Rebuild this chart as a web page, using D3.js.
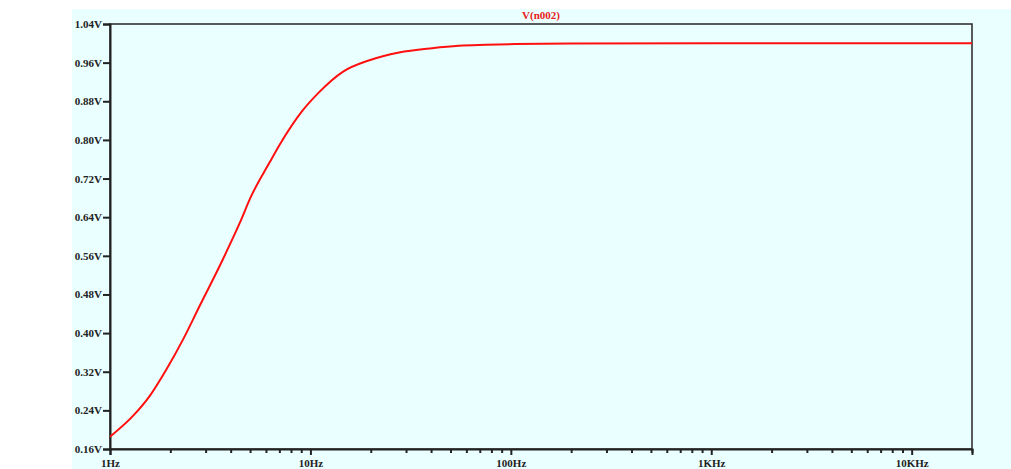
<!DOCTYPE html>
<html>
<head>
<meta charset="utf-8">
<script src="https://cdn.jsdelivr.net/npm/d3@7"></script>
<style>
  body { margin: 0; background: #fff; }
  text { font-family: "Liberation Serif", "Times New Roman", serif; font-weight: bold; }
</style>
</head>
<body>
<svg id="chart"></svg>
<script>
// frequency (Hz) and output voltage (V)
const freq  = [1, 1.306, 1.58, 1.914, 2.316, 2.8, 3.66, 4.43, 5.07, 6.25, 7.0, 9.15, 11.06, 14.5, 19.7, 27.7, 40.5, 55, 75, 105, 200, 1000, 10000, 20000];
const volts = [0.1855, 0.229, 0.270, 0.325, 0.387, 0.456, 0.553, 0.627, 0.684, 0.753, 0.789, 0.861, 0.899, 0.941, 0.965, 0.981, 0.990, 0.995, 0.997, 0.9985, 0.9995, 1.0, 1.0, 1.0];

const yTicks = [0.16, 0.24, 0.32, 0.40, 0.48, 0.56, 0.64, 0.72, 0.80, 0.88, 0.96, 1.04];
const xMajor = [1, 10, 100, 1000, 10000];
const xLabels = ["1Hz", "10Hz", "100Hz", "1KHz", "10KHz"];
const traceName = "V(n002)";

const width = 1011, height = 469;
const margin = { top: 24, right: 39, bottom: 20, left: 110 };
const innerW = width - margin.left - margin.right;
const innerH = height - margin.top - margin.bottom;

const svg = d3.select("#chart").attr("width", width).attr("height", height);

svg.append("rect")
  .attr("x", 72).attr("y", 9)
  .attr("width", width - 72).attr("height", height - 9)
  .attr("fill", "#eaffff");

const g = svg.append("g").attr("transform", `translate(${margin.left},${margin.top})`);

const x = d3.scaleLog().domain([1, 20000]).range([0, innerW]);
const y = d3.scaleLinear().domain([0.16, 1.04]).range([innerH, 0]);

// minor ticks 2..9 in every decade, up to 20k
const xMinor = [];
for (let d = 1; d <= 10000; d *= 10) {
  for (let m = 2; m <= 9; m++) if (d * m <= 20000) xMinor.push(d * m);
}

// frame
g.append("rect")
  .attr("width", innerW).attr("height", innerH)
  .attr("fill", "none").attr("stroke", "#333").attr("stroke-width", 1.6);

const yAxis = g.append("g")
  .call(d3.axisLeft(y).tickValues(yTicks).tickSize(7).tickPadding(1)
    .tickFormat(d => d3.format(".2f")(d) + "V"));
yAxis.select(".domain").attr("stroke", "#222").attr("stroke-width", 2);
yAxis.selectAll(".tick line").attr("stroke", "#222").attr("stroke-width", 2);
yAxis.selectAll(".tick text").attr("font-size", 11).attr("fill", "#222")
  .attr("font-family", "Liberation Serif").attr("font-weight", "bold");

const xMinorAxis = g.append("g")
  .attr("transform", `translate(0,${innerH})`)
  .call(d3.axisBottom(x).tickValues(xMinor).tickSize(4).tickFormat(""));
xMinorAxis.select(".domain").remove();
xMinorAxis.selectAll(".tick line").attr("stroke", "#222").attr("stroke-width", 2);

const xAxis = g.append("g")
  .attr("transform", `translate(0,${innerH})`)
  .call(d3.axisBottom(x).tickValues(xMajor).tickSize(6).tickPadding(4)
    .tickFormat((d, i) => xLabels[i]));
xAxis.select(".domain").attr("stroke", "#222").attr("stroke-width", 2);
xAxis.selectAll(".tick line").attr("stroke", "#222").attr("stroke-width", 2);
xAxis.selectAll(".tick text").attr("font-size", 11).attr("fill", "#222")
  .attr("font-family", "Liberation Serif").attr("font-weight", "bold");

const line = d3.line()
  .x((d, i) => x(freq[i]))
  .y(d => y(d))
  .curve(d3.curveMonotoneX);

g.append("path")
  .datum(volts)
  .attr("d", line)
  .attr("fill", "none")
  .attr("stroke", "#ff1010")
  .attr("stroke-width", 2);

g.append("text")
  .attr("x", innerW / 2).attr("y", -5)
  .attr("text-anchor", "middle")
  .attr("font-size", 11)
  .attr("fill", "#e82020")
  .text(traceName);
</script>
</body>
</html>
